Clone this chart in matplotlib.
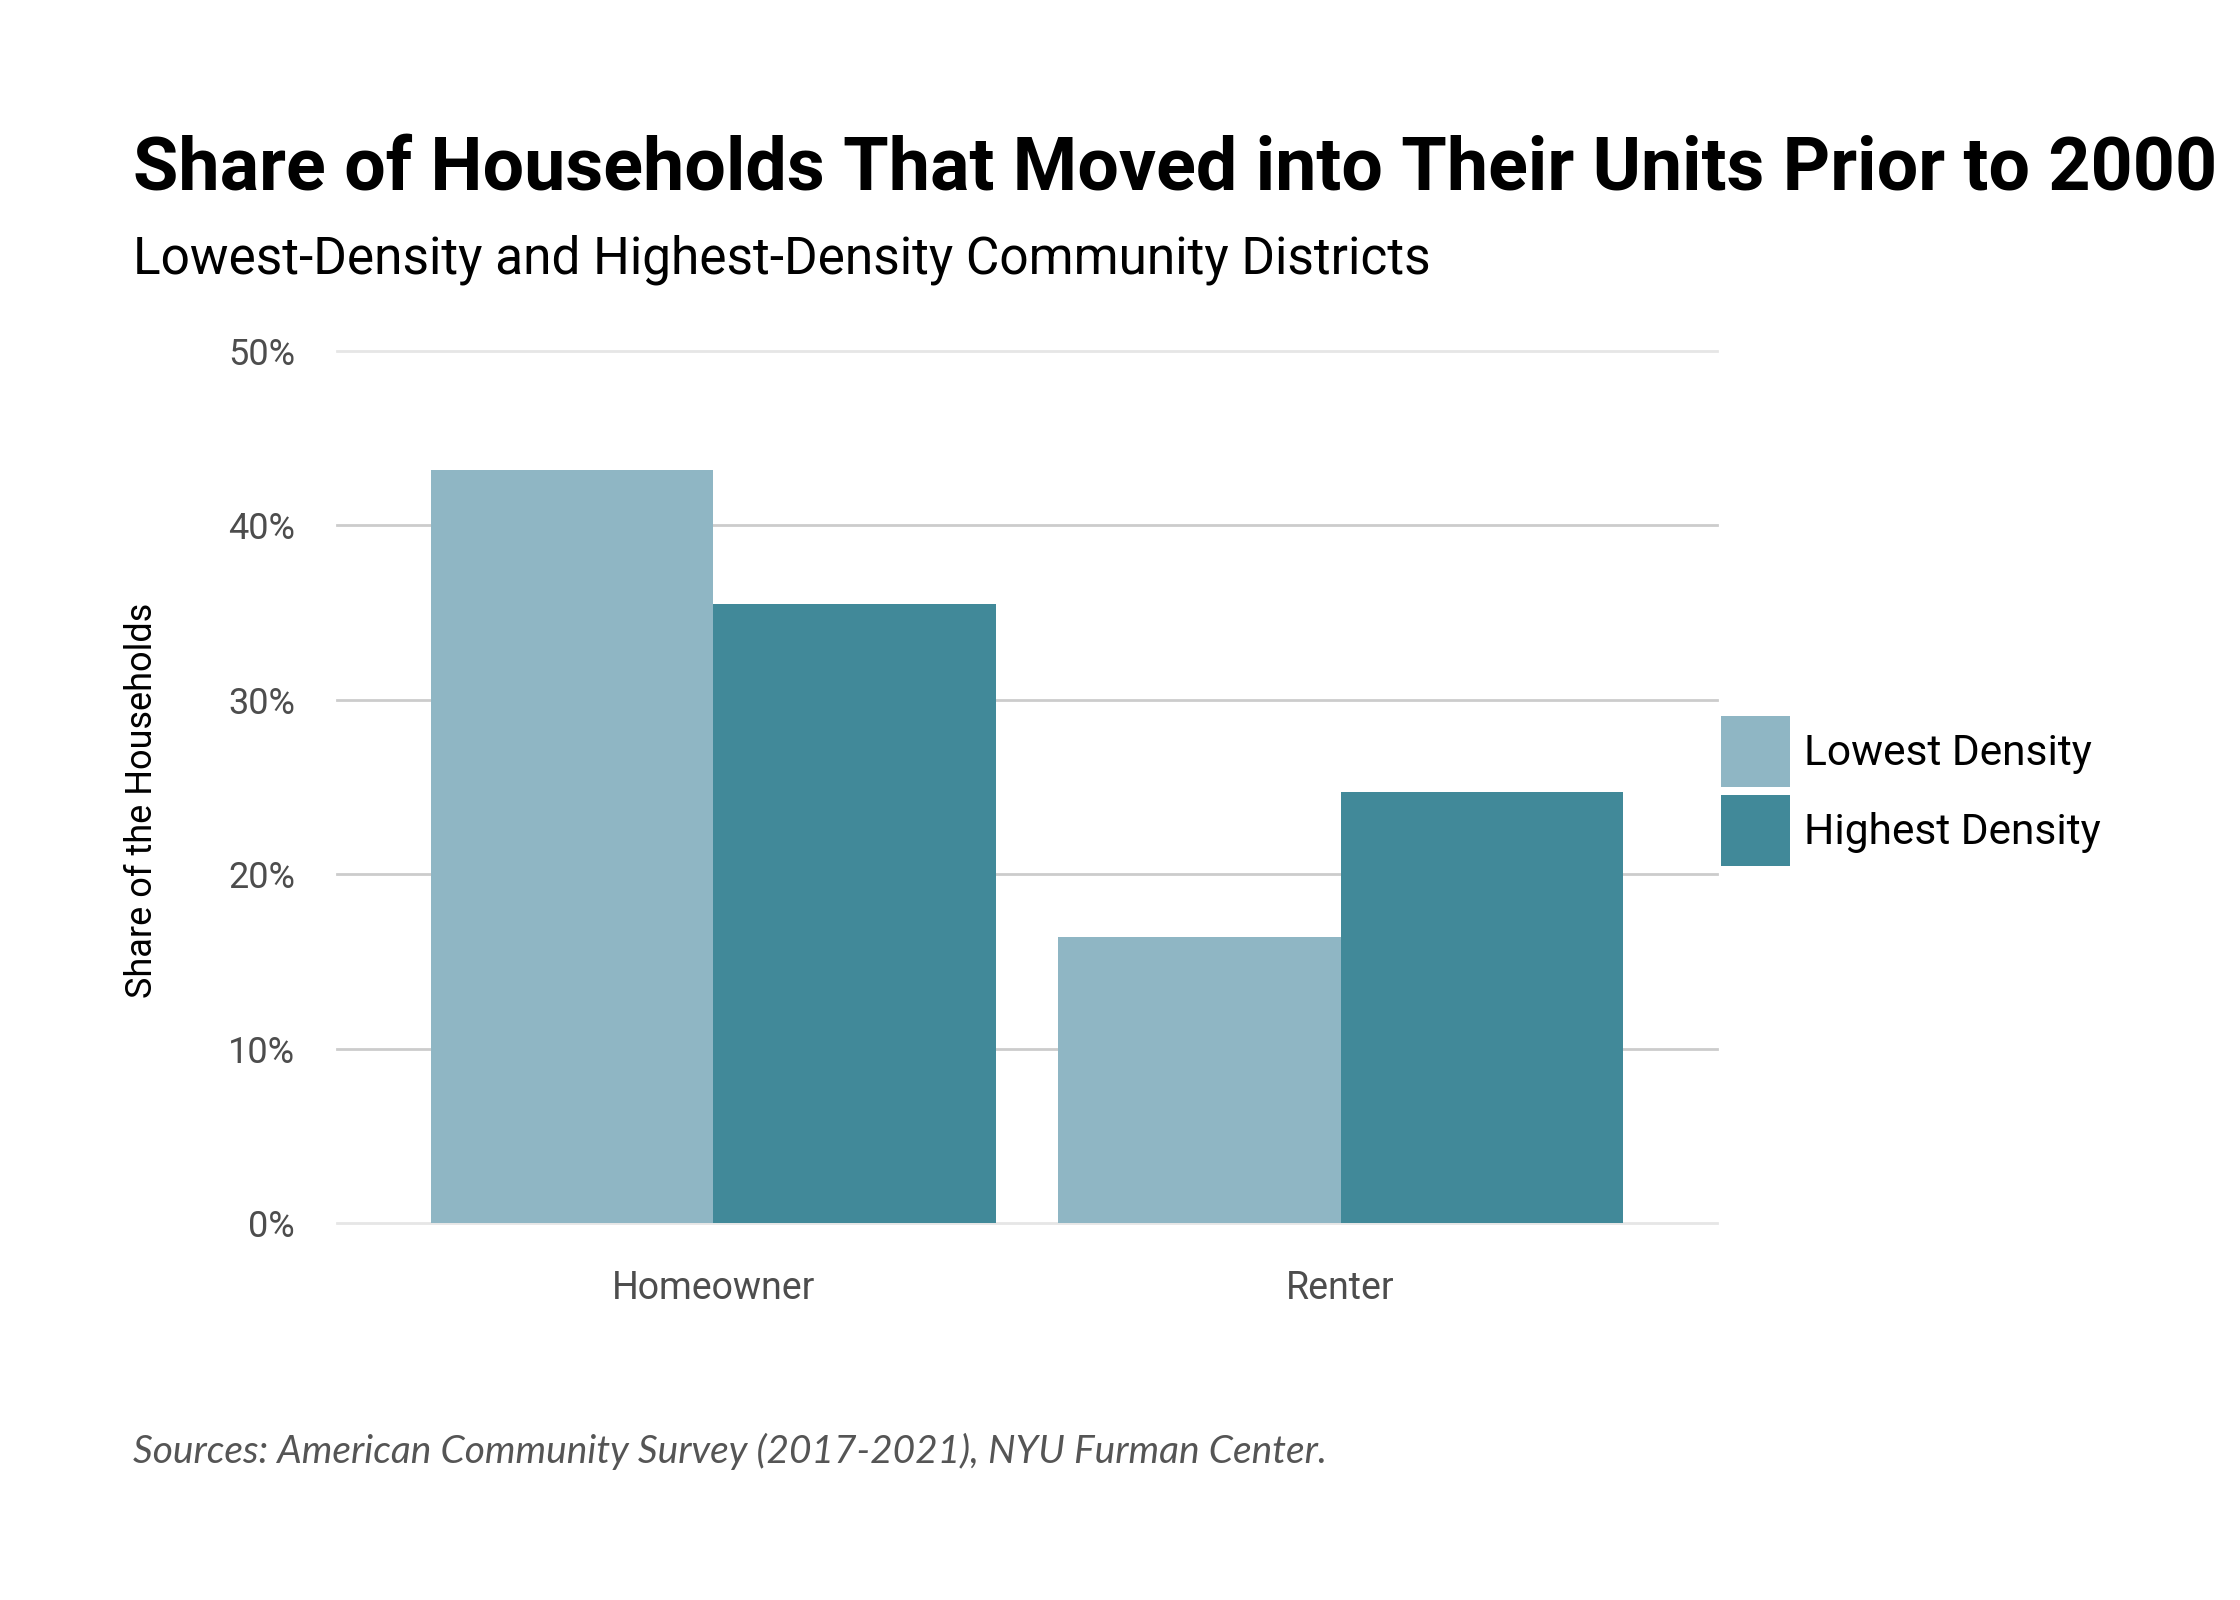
import numpy as np
import matplotlib.pyplot as plt
from matplotlib.patches import Patch

# data
categories = ['Homeowner', 'Renter']
series_names = ['Lowest Density', 'Highest Density']
lowest_density = [43.2, 16.4]
highest_density = [35.5, 24.7]
y_ticks = [0, 10, 20, 30, 40, 50]
y_tick_labels = ['0%', '10%', '20%', '30%', '40%', '50%']

light_blue = '#8fb6c4'
dark_teal = '#418999'
sans = ['Roboto', 'DejaVu Sans']

fig = plt.figure(figsize=(11.2, 8), dpi=200)
ax = fig.add_axes([0.1504, 0.2356, 0.6161, 0.5450])

x = np.arange(len(categories))
width = 0.45
ax.bar(x - width / 2, lowest_density, width, color=light_blue, zorder=2)
ax.bar(x + width / 2, highest_density, width, color=dark_teal, zorder=2)

ax.set_xlim(-0.6, 1.6)
ax.set_ylim(0, 50)
ax.set_yticks(y_ticks)
ax.set_yticklabels(y_tick_labels, family=sans, fontsize=13, color='#4d4d4d')
ax.set_xticks(x)
ax.set_xticklabels(categories, family=sans, fontsize=13.5, color='#4d4d4d')
ax.tick_params(axis='y', length=0, pad=15)
ax.tick_params(axis='x', length=0, pad=17)
for s in ax.spines.values():
    s.set_visible(False)

ax.grid(axis='y', color='#cccccc', linewidth=1.0, zorder=1)
ax.set_axisbelow(True)
for i, line in enumerate(ax.get_ygridlines()):
    line.set_clip_on(False)
    if i in (0, len(y_ticks) - 1):
        line.set_color('#e6e6e6')

ax.set_ylabel('Share of the Households', family=sans, fontsize=13, color='black')
ax.yaxis.set_label_coords(0.0714, 0.5, transform=fig.transFigure)

title_size = 26.5
title = fig.text(0.0594, 0.8813, 'Share of Households That Moved into Their Units Prior to 2000',
                 family=sans, fontsize=title_size, fontweight='bold', va='baseline', ha='left')
fig.text(0.0594, 0.8288, 'Lowest-Density and Highest-Density Community Districts',
         family=sans, fontsize=18.5, va='baseline', ha='left')
fig.text(0.0594, 0.0856, 'Sources: American Community Survey (2017-2021), NYU Furman Center.',
         family=['Lato', 'DejaVu Sans'], fontsize=14, style='italic',
         color='#555555', va='baseline', ha='left')

handles = [Patch(facecolor=light_blue, edgecolor='none'),
           Patch(facecolor=dark_teal, edgecolor='none')]
fig.legend(handles, series_names, loc='upper left', bbox_to_anchor=(0.7683, 0.5525),
           frameon=False, borderpad=0, borderaxespad=0,
           prop={'family': sans, 'size': 15.3},
           handlelength=1.62, handleheight=2.2, labelspacing=0.19, handletextpad=0.34)

# keep the long title inside the canvas
fig.canvas.draw()
bb = title.get_window_extent()
right_limit = fig.bbox.width - 8
if bb.x1 > right_limit:
    title.set_fontsize(title_size * (right_limit - bb.x0) / bb.width)

fig.savefig('out.png', dpi=200, facecolor='white')
